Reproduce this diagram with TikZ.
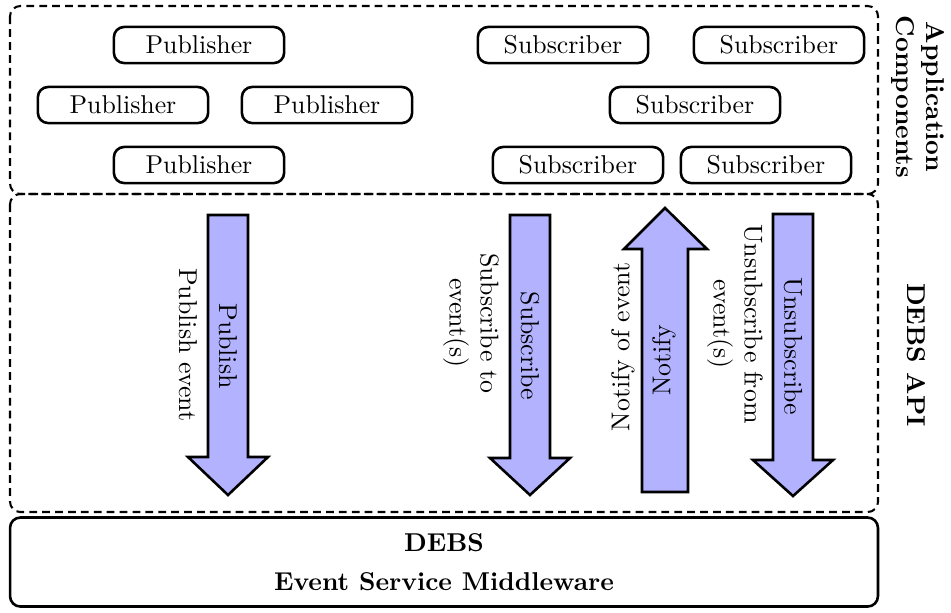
\documentclass[tikz,border=0pt]{standalone}
\usetikzlibrary{positioning}
\begin{document}
\begin{tikzpicture}[x=0.3876pt, y=-0.3876pt,
  comp/.style={draw, line width=1pt, rounded corners=4pt, minimum width=66pt, minimum height=14pt, inner sep=2pt},
  zone/.style={draw, line width=0.8pt, dash pattern=on 3pt off 2pt, rounded corners=4pt},
  bigarrow/.style={draw, line width=1pt, fill=blue!30, line join=miter},
  lbl/.style={align=center, inner sep=0pt},
  zonelbl/.style={align=center, font=\bfseries, rotate=-90, inner sep=0pt}]
\useasboundingbox (0,0) rectangle (951,612);

% layer boxes
\draw[zone] (10,6) rectangle (878,194);
\draw[zone] (10,194) rectangle (878,512);
\node[draw, line width=1pt, rounded corners=4pt, minimum width=336.4pt, minimum height=34.5pt,
      align=center, font=\bfseries] (mw) at (444,562) {DEBS\\[3pt]Event Service Middleware};

% layer captions
\node[zonelbl] (applbl) at (918,97) {Application\\Components};
\node[zonelbl] (apilbl) at (916,355) {DEBS API};

% publishers
\node[comp] (p1) at (199,45) {Publisher};
\node[comp] (p2) at (123,105) {Publisher};
\node[comp] (p3) at (327,105) {Publisher};
\node[comp] (p4) at (199,165) {Publisher};

% subscribers
\node[comp] (s1) at (563,45) {Subscriber};
\node[comp] (s2) at (779,45) {Subscriber};
\node[comp] (s3) at (695,105) {Subscriber};
\node[comp] (s4) at (578,165) {Subscriber};
\node[comp] (s5) at (766,165) {Subscriber};

% API operations
\draw[bigarrow] (208,215) -- (248,215) -- (248,457) -- (268,457) -- (228,495) -- (188,457) -- (208,457) -- cycle;
\node[lbl, rotate=-90] (pubin) at (228,346) {Publish};
\node[lbl, rotate=-90] (publbl) at (188,345) {Publish event};

\draw[bigarrow] (510,215) -- (550,215) -- (550,458) -- (570,458) -- (530,495) -- (490,458) -- (510,458) -- cycle;
\node[lbl, rotate=-90] (subin) at (530,346) {Subscribe};
\node[lbl, rotate=-90] (sublbl) at (471,323) {Subscribe to\\event(s)};

\draw[bigarrow] (642,492) -- (688,492) -- (688,249) -- (707,249) -- (665,208) -- (624,249) -- (642,249) -- cycle;
\node[lbl, rotate=90] (notin) at (664,360) {Notify};
\node[lbl, rotate=90] (notlbl) at (623,347) {Notify of event};

\draw[bigarrow] (773,214) -- (813,214) -- (813,460) -- (833,460) -- (793,496) -- (753,460) -- (773,460) -- cycle;
\node[lbl, rotate=-90] (unsin) at (793,346) {Unsubscribe};
\node[lbl, rotate=-90] (unslbl) at (735,324) {Unsubscribe from\\event(s)};
\end{tikzpicture}
\end{document}
